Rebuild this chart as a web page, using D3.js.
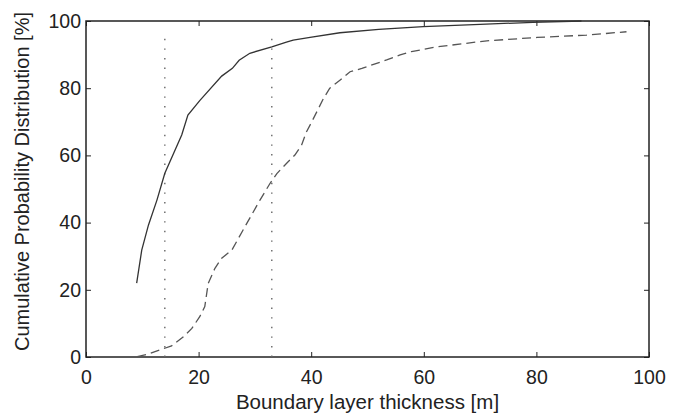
<!DOCTYPE html>
<html lang="en">
<head>
  <meta charset="UTF-8" />
  <title>Boundary layer thickness CDF</title>
  <style>
    body { margin: 0; background: white; }
    svg { display: block; font-family: 'Liberation Sans', Arial, sans-serif; }
    .tick text { font-size: 19.5px; fill: #222; }
    .label { fill: #222; }
  </style>
  <script src="https://d3js.org/d3.v7.min.js"></script>
</head>
<body>
  <div id="chart"></div>
  <script>
    const width = 681;
    const height = 413;
    const margin = {top: 21, right: 32, bottom: 56, left: 86};

    // solid curve: [thickness m, cumulative %]
    const solidX = [9.0, 9.9, 11.1, 12.6, 14.0, 17.0, 18.1, 20.2, 24.1, 26.0, 27.2, 29.1, 33.0, 35.6, 36.8, 39.8, 45.1, 52, 59.9, 70, 79.4, 88];
    const solidY = [22, 31.8, 39.3, 46.7, 54.7, 66.1, 72.0, 76.3, 83.6, 85.9, 88.3, 90.4, 92.3, 93.7, 94.3, 95.1, 96.5, 97.5, 98.3, 99.0, 99.6, 100];

    // dashed curve
    const dashX = [9.1, 11.1, 13.1, 15.2, 17.3, 18.8, 20.2, 21.1, 21.7, 22.9, 24.1, 25.9, 27.9, 30.9, 32.7, 33.9, 35.6, 37.1, 38.3, 39.1, 40.1, 42.2, 43.3, 45.1, 46.9, 49.0, 53.4, 55.8, 57.8, 62.3, 71.2, 80.1, 88.9, 96.0];
    const dashY = [0.1, 0.9, 2.1, 3.3, 6.0, 8.5, 12.0, 15.0, 21.9, 26.4, 29.4, 31.8, 37.8, 46.7, 51.7, 54.6, 57.6, 60.1, 63.1, 66.8, 70.0, 77.0, 80.0, 82.4, 84.9, 85.9, 88.4, 89.9, 90.9, 92.3, 94.1, 95.1, 95.8, 96.8];

    const refLines = [14, 33];
    const xTicks = [0, 20, 40, 60, 80, 100];
    const yTicks = [0, 20, 40, 60, 80, 100];

    const svg = d3.select("#chart").append("svg")
      .attr("width", width)
      .attr("height", height);

    const x = d3.scaleLinear().domain([0, 100]).range([margin.left, width - margin.right]);
    const y = d3.scaleLinear().domain([0, 100]).range([height - margin.bottom, margin.top]);

    const axisColor = "#222";

    function styleAxis(g) {
      g.select(".domain").remove();
      g.selectAll(".tick line").attr("stroke", axisColor);
    }

    svg.append("g")
      .attr("transform", `translate(0,${y(0)})`)
      .call(d3.axisBottom(x).tickValues(xTicks).tickSize(-5).tickPadding(13).tickFormat(d3.format("d")))
      .call(styleAxis);

    svg.append("g")
      .attr("transform", `translate(0,${y(100)})`)
      .call(d3.axisTop(x).tickValues(xTicks).tickSize(-5).tickFormat(""))
      .call(styleAxis);

    svg.append("g")
      .attr("transform", `translate(${x(0)},0)`)
      .call(d3.axisLeft(y).tickValues(yTicks).tickSize(-5).tickPadding(5).tickFormat(d3.format("d")))
      .call(styleAxis);

    svg.append("g")
      .attr("transform", `translate(${x(100)},0)`)
      .call(d3.axisRight(y).tickValues(yTicks).tickSize(-5).tickFormat(""))
      .call(styleAxis);

    svg.selectAll(".tick text").attr("font-family", "'Liberation Sans', Arial, sans-serif");

    // plot frame
    svg.append("rect")
      .attr("x", x(0)).attr("y", y(100))
      .attr("width", x(100) - x(0)).attr("height", y(0) - y(100))
      .attr("fill", "none")
      .attr("stroke", axisColor)
      .attr("stroke-width", 1.5);

    // dotted reference lines
    svg.selectAll(".ref")
      .data(refLines)
      .enter().append("line")
      .attr("x1", d => x(d)).attr("x2", d => x(d))
      .attr("y1", y(0)).attr("y2", y(97))
      .attr("stroke", "#666")
      .attr("stroke-width", 1.4)
      .attr("stroke-dasharray", "1.4,8.2");

    const line = d3.line().x(d => x(d[0])).y(d => y(d[1]));

    svg.append("path")
      .datum(solidX.map((v, i) => [v, solidY[i]]))
      .attr("d", line)
      .attr("fill", "none")
      .attr("stroke", "#333")
      .attr("stroke-width", 1.3);

    svg.append("path")
      .datum(dashX.map((v, i) => [v, dashY[i]]))
      .attr("d", line)
      .attr("fill", "none")
      .attr("stroke", "#555")
      .attr("stroke-width", 1.3)
      .attr("stroke-dasharray", "9,5");

    svg.append("text")
      .attr("class", "label")
      .attr("x", (x(0) + x(100)) / 2)
      .attr("y", 409)
      .attr("text-anchor", "middle")
      .attr("font-size", 20.5)
      .text("Boundary layer thickness [m]");

    svg.append("text")
      .attr("class", "label")
      .attr("transform", `translate(29,181.5) rotate(-90)`)
      .attr("text-anchor", "middle")
      .attr("font-size", 20)
      .text("Cumulative Probability Distribution [%]");
  </script>
</body>
</html>
